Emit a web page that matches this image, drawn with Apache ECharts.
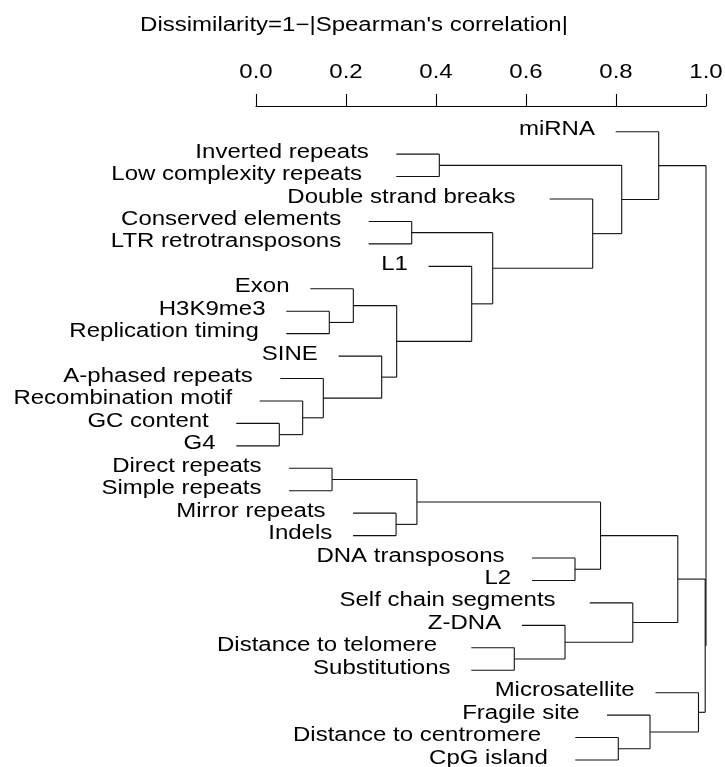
<!DOCTYPE html>
<html>
<head>
<meta charset="utf-8">
<script src="https://cdn.jsdelivr.net/npm/echarts@6/dist/echarts.min.js"></script>
<style>
html,body{margin:0;padding:0;background:#fff;}
#chart{width:725px;height:767px;}
</style>
</head>
<body>
<div id="chart"></div>
<script>
// Leaf labels in display order (top to bottom)
const labels = [
  'miRNA', 'Inverted repeats', 'Low complexity repeats', 'Double strand breaks',
  'Conserved elements', 'LTR retrotransposons', 'L1', 'Exon', 'H3K9me3',
  'Replication timing', 'SINE', 'A-phased repeats', 'Recombination motif',
  'GC content', 'G4', 'Direct repeats', 'Simple repeats', 'Mirror repeats',
  'Indels', 'DNA transposons', 'L2', 'Self chain segments', 'Z-DNA',
  'Distance to telomere', 'Substitutions', 'Microsatellite', 'Fragile site',
  'Distance to centromere', 'CpG island'
];
// Merge table (R hclust convention): negative = leaf (1-based), positive = earlier merge row (1-based)
const mergeA = [-14, -13, -12, -9, -16, -8, -11, -18, 6, -5, 5, -2, -7, 10, -24, -23, -20, -4, 11, -28, 12, -22, -27, -1, 19, -26, 25, 24];
const mergeB = [-15, 1, 2, -10, -17, 4, 3, -19, 7, -6, 8, -3, 9, 13, -25, 15, -21, 14, 17, -29, 18, 16, 20, 21, 22, 23, 26, 27];
const mergeHeight = [0.0518, 0.1037, 0.1496, 0.1629, 0.169, 0.2163, 0.2793, 0.3113, 0.3126, 0.346,
  0.3576, 0.4074, 0.4793, 0.526, 0.574, 0.6867, 0.7089, 0.7482, 0.7656, 0.8051,
  0.8127, 0.8373, 0.8756, 0.8949, 0.9373, 0.9833, 0.9982, 1.0];
const hang = 0.0956;
// Axis ticks
const tickValues = [0, 0.2, 0.4, 0.6, 0.8, 1.0];
const tickLabels = ['0.0', '0.2', '0.4', '0.6', '0.8', '1.0'];
const titleText = 'Dissimilarity=1\u2212|Spearman\'s correlation|';

// Build dendrogram segments
const nodeY = [], nodeH = [];
const segments = [];
const leafData = [];
for (let k = 0; k < mergeHeight.length; k++) {
  const h = mergeHeight[k];
  const ys = [];
  [mergeA[k], mergeB[k]].forEach(c => {
    let y, xs;
    if (c < 0) {
      y = -c - 1;
      xs = h - hang;
      leafData.push([xs, y, y]);
    } else {
      y = nodeY[c - 1];
      xs = nodeH[c - 1];
    }
    segments.push([xs, y, h, y]);
    ys.push(y);
  });
  segments.push([h, ys[0], h, ys[1]]);
  nodeY.push((ys[0] + ys[1]) / 2);
  nodeH.push(h);
}

const FONT = '20px "Liberation Sans", Arial, sans-serif';
const STRETCH = 1.2;
const YMIN = -1.145, YMAX = 28;

const chart = echarts.init(document.getElementById('chart'), null, {renderer: 'canvas'});
chart.setOption({
  animation: false,
  backgroundColor: '#fff',
  graphic: [{
    type: 'text', x: 354, y: 25.5, scaleX: STRETCH,
    style: {text: titleText, align: 'center', verticalAlign: 'middle', font: FONT, fill: '#000'}
  }],
  grid: {left: 256, right: 19, top: 106, bottom: 7},
  xAxis: {
    type: 'value', position: 'top', min: 0, max: 1, interval: 0.2,
    axisLine: {show: true, onZero: false, lineStyle: {color: '#000', width: 1.1}},
    axisTick: {show: true, length: 12, lineStyle: {color: '#000', width: 1.1}},
    axisLabel: {show: false},
    splitLine: {show: false}
  },
  yAxis: {
    type: 'value', inverse: true, min: YMIN, max: YMAX, show: false,
    splitLine: {show: false}
  },
  series: [
    {
      type: 'custom', silent: true, clip: false,
      data: segments,
      encode: {x: [0, 2], y: [1, 3]},
      renderItem: function (params, api) {
        const p1 = api.coord([api.value(0), api.value(1)]);
        const p2 = api.coord([api.value(2), api.value(3)]);
        return {type: 'line', shape: {x1: p1[0], y1: p1[1], x2: p2[0], y2: p2[1]},
          style: {stroke: '#111', lineWidth: 1.1}};
      }
    },
    {
      type: 'custom', silent: true, clip: false,
      data: leafData,
      encode: {x: 0, y: 1},
      renderItem: function (params, api) {
        const p = api.coord([api.value(0), api.value(1)]);
        const text = labels[api.value(2)];
        const spaces = (text.match(/ /g) || []).length;
        const gap = 20.8 + 6.7 * spaces;
        return {type: 'text', x: p[0] - gap, y: p[1] - 2, scaleX: STRETCH,
          style: {text: text, x: 0, y: 0, align: 'right', verticalAlign: 'middle', font: FONT, fill: '#000'}};
      }
    },
    {
      type: 'custom', silent: true, clip: false,
      data: tickValues.map((v, i) => [v, YMIN, i]),
      encode: {x: 0, y: 1},
      renderItem: function (params, api) {
        const p = api.coord([api.value(0), api.value(1)]);
        return {type: 'text', x: p[0], y: p[1] - 33.5, scaleX: STRETCH,
          style: {text: tickLabels[api.value(2)], x: 0, y: 0, align: 'center', verticalAlign: 'middle', font: FONT, fill: '#000'}};
      }
    }
  ]
});
</script>
</body>
</html>
